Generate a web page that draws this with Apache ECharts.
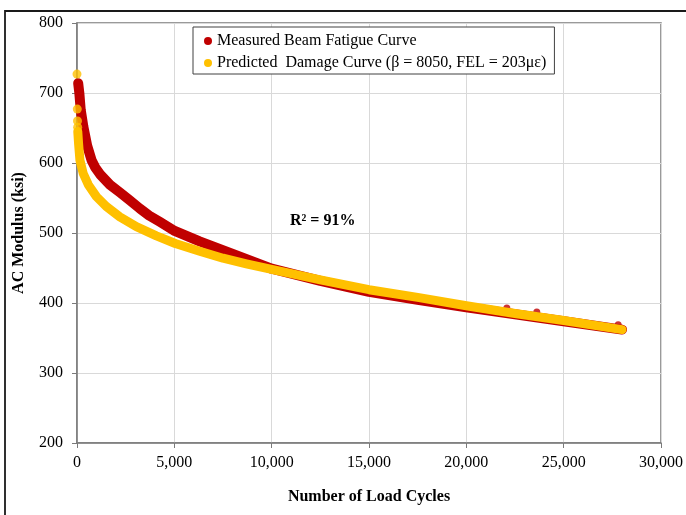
<!DOCTYPE html>
<html>
<head>
<meta charset="utf-8">
<script src="https://cdn.jsdelivr.net/npm/echarts@6/dist/echarts.min.js"></script>
<style>html,body{margin:0;padding:0;background:#fff}#c{width:686px;height:515px}</style>
</head>
<body>
<div id="c"></div>
<script>
// ---- data ----
const measuredName = 'Measured Beam Fatigue Curve';
const predictedName = 'Predicted  Damage Curve (\u03b2 = 8050, FEL = 203\u03bc\u03b5)';

const measuredX = [60, 120, 190, 325, 520, 750, 950, 1180, 1690, 2200, 2700, 3225, 3700, 4250, 5017, 6300, 8000, 10000, 12500, 15000, 17500, 20000, 22500, 25000, 28000];
const measuredY = [714, 700, 676, 652, 625, 604, 593, 584, 569, 558, 547, 535, 525, 516, 503, 488, 470, 449, 431.5, 416, 404.5, 394, 384, 374, 362];

const measuredBumpX = [22080, 23620, 27800];
const measuredBumpY = [393, 387, 369];

const predictedDotX = [0, 15, 25, 35];
const predictedDotY = [727, 677, 660, 651];

const predictedX = [40, 80, 150, 320, 580, 1000, 1500, 2200, 3050, 4080, 5050, 6300, 7500, 8700, 10000, 12500, 15000, 17500, 20000, 22500, 25000, 28000];
const predictedY = [645, 628, 604, 585, 569, 552, 538, 523, 509, 496, 485, 474, 464, 456, 448, 433, 419, 408, 396, 385, 375, 362];

const xTicks = {min: 0, max: 30000, step: 5000};
const yTicks = {min: 200, max: 800, step: 100};
const r2Text = 'R\u00b2 = 91%';

function pairs(xs, ys) { return xs.map((x, i) => [x, ys[i]]); }

const RED = '#C00000';
const YEL = '#FFC000';
const FONT = 'Liberation Serif';

const chart = echarts.init(document.getElementById('c'), null, {renderer: 'canvas'});
chart.setOption({
  animation: false,
  backgroundColor: '#fff',
  grid: {left: 77, right: 23, top: 23, bottom: 72, show: true, borderColor: '#7a7a7a', borderWidth: 1.5, backgroundColor: 'transparent'},
  legend: {
    orient: 'vertical', left: 193, top: 27,
    padding: [6, 8, 3, 11], itemGap: 6, itemWidth: 8, itemHeight: 8,
    backgroundColor: '#fff', borderColor: '#404040', borderWidth: 1, borderRadius: 0,
    data: [{name: measuredName, icon: 'circle'}, {name: predictedName, icon: 'circle'}],
    textStyle: {fontFamily: FONT, fontSize: 16, color: '#000'}
  },
  xAxis: {
    type: 'value', min: xTicks.min, max: xTicks.max, interval: xTicks.step,
    name: 'Number of Load Cycles', nameLocation: 'middle', nameGap: 46,
    nameTextStyle: {fontFamily: FONT, fontSize: 16, fontWeight: 'bold', color: '#000'},
    axisLine: {show: true, lineStyle: {color: '#7a7a7a', width: 1.5}},
    axisTick: {show: true, inside: false, length: 5, lineStyle: {color: '#7a7a7a'}},
    axisLabel: {margin: 12, fontFamily: FONT, fontSize: 16, color: '#000', formatter: v => v.toLocaleString('en-US')},
    splitLine: {show: true, lineStyle: {color: '#d9d9d9', width: 1}}
  },
  yAxis: {
    type: 'value', min: yTicks.min, max: yTicks.max, interval: yTicks.step,
    name: 'AC Modulus (ksi)', nameLocation: 'middle', nameGap: 50,
    nameTextStyle: {fontFamily: FONT, fontSize: 16, fontWeight: 'bold', color: '#000'},
    axisLine: {show: true, lineStyle: {color: '#7a7a7a', width: 1.5}},
    axisTick: {show: true, inside: false, length: 5, lineStyle: {color: '#7a7a7a'}},
    axisLabel: {margin: 14, fontFamily: FONT, fontSize: 16, color: '#000'},
    splitLine: {show: true, lineStyle: {color: '#d9d9d9', width: 1}}
  },
  series: [
    {name: measuredName, type: 'line', data: pairs(measuredX, measuredY), showSymbol: false, symbol: 'circle', smooth: false,
     itemStyle: {color: RED}, lineStyle: {color: RED, width: 10, cap: 'round', join: 'round'}, z: 2},
    {name: measuredName, type: 'scatter', data: pairs(measuredBumpX, measuredBumpY), symbol: 'circle', symbolSize: 7,
     itemStyle: {color: RED}, z: 2},
    {name: predictedName, type: 'line', data: pairs(predictedX, predictedY), showSymbol: false, symbol: 'circle', smooth: false,
     itemStyle: {color: YEL}, lineStyle: {color: YEL, width: 9, cap: 'round', join: 'round'}, z: 3},
    {name: predictedName, type: 'scatter', data: pairs(predictedDotX, predictedDotY), symbol: 'circle', symbolSize: 9,
     itemStyle: {color: YEL}, z: 3}
  ],
  graphic: [
    {type: 'rect', shape: {x: 5, y: 11, width: 720, height: 540}, style: {fill: 'none', stroke: '#1a1a1a', lineWidth: 1.8}, silent: true, z: 10},
    {type: 'text', left: 290, top: 213, style: {text: r2Text, font: 'bold 16px "Liberation Serif"', fill: '#000'}, z: 10}
  ]
});
</script>
</body>
</html>
